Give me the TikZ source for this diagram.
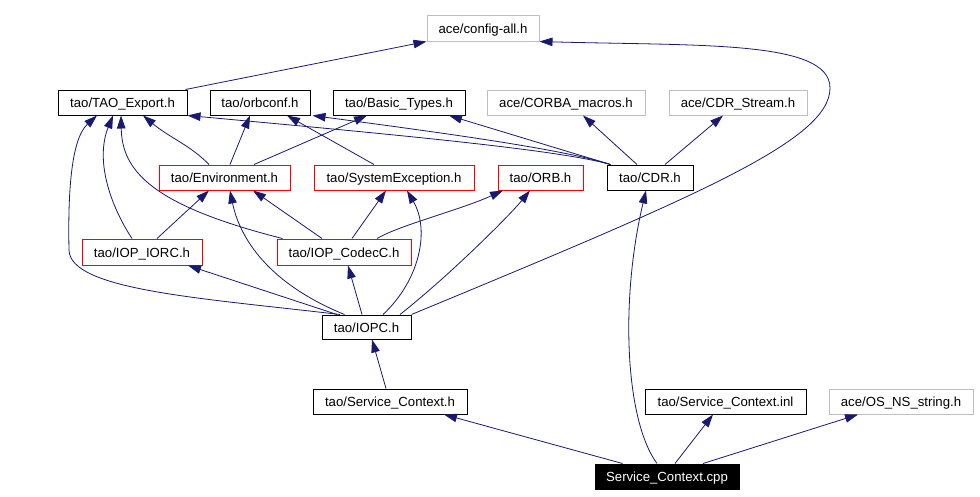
\documentclass[tikz,border=0pt]{standalone}
\usepackage{fontspec}
\usetikzlibrary{arrows.meta}
\newfontfamily\doxfont{Liberation Sans}
\newcommand\dxfont{\doxfont\fontsize{13.2pt}{15pt}\selectfont}
\definecolor{edgecol}{HTML}{191970}
\definecolor{graycol}{HTML}{BFBFBF}
\definecolor{redcol}{HTML}{FF0000}
\tikzset{
  box/.style={draw, line width=1pt, inner sep=0pt, minimum height=25pt, text height=11pt, text depth=1pt, font=\dxfont},
  blackbox/.style={box, draw=black},
  redbox/.style={box, draw=redcol},
  graybox/.style={box, draw=graycol},
  rootbox/.style={box, draw=black, fill=black, text=white},
  edge/.style={draw=edgecol, line width=0.8pt, -{Triangle[length=13pt,width=8.5pt]}},
}
\begin{document}
\begin{tikzpicture}[x=1pt,y=-1pt]
\useasboundingbox[fill=white] (0,0) rectangle (980,496);
% nodes
\node[graybox, minimum width=112pt, minimum height=26pt] (cfg) at (483,28) {ace/config-all.h};
\node[blackbox, minimum width=129pt] (tao) at (122.5,102.5) {tao/TAO\_Export.h};
\node[blackbox, minimum width=100pt] (orbc) at (260,102.5) {tao/orbconf.h};
\node[blackbox, minimum width=132pt] (basic) at (399,102.5) {tao/Basic\_Types.h};
\node[graybox, minimum width=158pt] (corba) at (566,102.5) {ace/CORBA\_macros.h};
\node[graybox, minimum width=138pt] (cdrs) at (738,102.5) {ace/CDR\_Stream.h};
\node[redbox, minimum width=131pt] (env) at (224.5,177.5) {tao/Environment.h};
\node[redbox, minimum width=160pt] (sysex) at (394,177.5) {tao/SystemException.h};
\node[redbox, minimum width=85pt] (orb) at (540.5,177.5) {tao/ORB.h};
\node[blackbox, minimum width=86pt] (cdr) at (650,177.5) {tao/CDR.h};
\node[redbox, minimum width=120pt, minimum height=26pt] (iorc) at (142,252) {tao/IOP\_IORC.h};
\node[redbox, minimum width=134pt, minimum height=26pt] (codec) at (344,252) {tao/IOP\_CodecC.h};
\node[blackbox, minimum width=89pt, minimum height=24pt] (iopc) at (366.5,327) {tao/IOPC.h};
\node[blackbox, minimum width=154pt] (sch) at (390,401.5) {tao/Service\_Context.h};
\node[blackbox, minimum width=161pt] (inl) at (725.5,401.5) {tao/Service\_Context.inl};
\node[graybox, minimum width=144pt] (osns) at (901,401.5) {ace/OS\_NS\_string.h};
\node[rootbox, minimum width=144pt] (cpp) at (667,476.5) {Service\_Context.cpp};
% edges
\draw[edge] ([xshift=-2pt]tao.north east) -- (cfg.south west);
\draw[edge] (iopc.north east) .. controls (700,195) and (830,140) .. (830,88) .. controls (830,40) and (700,46) .. (cfg.south east);
\draw[edge] ([xshift=-15.5pt]env.north) .. controls (190,145) and (170,138) .. ([xshift=20.5pt]tao.south);
\draw[edge] ([xshift=5.5pt]env.north) -- ([xshift=-10pt]orbc.south);
\draw[edge] ([xshift=29.5pt]env.north) -- ([xshift=-32pt]basic.south);
\draw[edge] ([xshift=-20pt]sysex.north) -- ([xshift=27pt]orbc.south);
\draw[edge] ([xshift=4pt]cdr.north west) .. controls (560,150) and (400,135) .. (tao.south east);
\draw[edge] ([xshift=4pt]cdr.north west) .. controls (560,148) and (420,130) .. ([xshift=2pt]orbc.south east);
\draw[edge] ([xshift=4pt]cdr.north west) -- ([xshift=50pt]basic.south);
\draw[edge] ([xshift=-13pt]cdr.north) -- ([xshift=17pt]corba.south);
\draw[edge] ([xshift=15pt]cdr.north) -- ([xshift=-15pt]cdrs.south);
\draw[edge] ([xshift=-10pt]iorc.north) .. controls (110,205) and (95,160) .. ([xshift=-9.5pt]tao.south);
\draw[edge] ([xshift=15pt]iorc.north) -- ([xshift=-15.5pt]env.south);
\draw[edge] ([xshift=6pt]codec.north west) .. controls (150,205) and (122,170) .. ([xshift=-1.5pt]tao.south);
\draw[edge] ([xshift=-22pt]codec.north) -- ([xshift=28.5pt]env.south);
\draw[edge] ([xshift=8pt]codec.north) -- ([xshift=-8pt]sysex.south);
\draw[edge] ([xshift=33pt]codec.north) .. controls (400,225) and (460,210) .. ([xshift=-37.5pt]orb.south);
\draw[edge] ([xshift=-26.5pt]iopc.north) .. controls (200,298) and (70,290) .. (69,250) .. controls (68,200) and (70,140) .. ([xshift=-25.5pt]tao.south);
\draw[edge] ([xshift=-29.5pt]iopc.north) -- ([xshift=46pt]iorc.south);
\draw[edge] ([xshift=-22pt]iopc.north) .. controls (260,280) and (238,230) .. ([xshift=5.5pt]env.south);
\draw[edge] ([xshift=-4.5pt]iopc.north) -- ([xshift=4pt]codec.south);
\draw[edge] ([xshift=16.5pt]iopc.north) .. controls (420,280) and (430,230) .. ([xshift=13pt]sysex.south);
\draw[edge] ([xshift=33.5pt]iopc.north) .. controls (450,275) and (510,215) .. ([xshift=-10.5pt]orb.south);
\draw[edge] ([xshift=-4pt]sch.north) -- ([xshift=5.5pt]iopc.south);
\draw[edge] ([xshift=28pt]cpp.north west) -- ([xshift=54pt]sch.south);
\draw[edge] ([xshift=-10pt]cpp.north) .. controls (625,420) and (620,300) .. ([xshift=-4pt]cdr.south);
\draw[edge] ([xshift=8pt]cpp.north) -- ([xshift=-12.5pt]inl.south);
\draw[edge] ([xshift=36pt]cpp.north) -- ([xshift=-43pt]osns.south);
\end{tikzpicture}
\end{document}
